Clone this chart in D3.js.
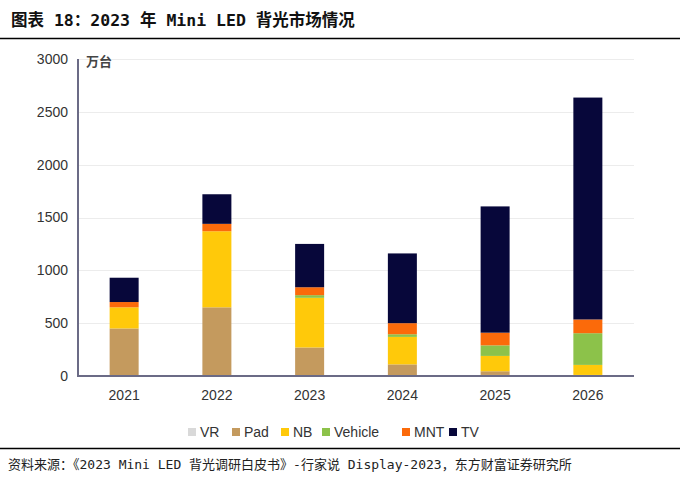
<!DOCTYPE html>
<html>
<head>
<meta charset="utf-8">
<script src="https://cdnjs.cloudflare.com/ajax/libs/d3/7.8.5/d3.min.js"></script>
<style>
html,body{margin:0;padding:0;background:#fff;}
svg{display:block;}
</style>
</head>
<body>
<svg id="chart" width="687" height="477"></svg>
<script>
const years = ["2021","2022","2023","2024","2025","2026"];
const seriesNames = ["VR","Pad","NB","Vehicle","MNT","TV"];
const VR      = [0, 0, 0, 5, 10, 10];
const Pad     = [450, 650, 270, 105, 35, 0];
const NB      = [200, 720, 470, 260, 145, 95];
const Vehicle = [0, 0, 25, 25, 100, 300];
const MNT     = [50, 70, 75, 105, 120, 130];
const TV      = [230, 280, 410, 660, 1195, 2100];
const yTicks  = [0, 500, 1000, 1500, 2000, 2500, 3000];
const colors  = ["#d9d9d9", "#c49a5e", "#ffc90a", "#8cc24a", "#fb6a0a", "#07073a"];
const titleText = "图表 18：2023 年 Mini LED 背光市场情况";
const unitText = "万台";
const sourceText = "资料来源：《2023 Mini LED 背光调研白皮书》-行家说 Display-2023，东方财富证券研究所";

const seriesValues = [VR, Pad, NB, Vehicle, MNT, TV];
const table = years.map((y, i) => {
  const row = {year: y};
  seriesNames.forEach((s, j) => row[s] = seriesValues[j][i]);
  return row;
});

const svg = d3.select("#chart");
const monoCJK = "'DejaVu Sans Mono','Liberation Mono','Noto Sans CJK SC',monospace";
const sans = "'Liberation Sans',Arial,'Noto Sans CJK SC',sans-serif";

// Title
svg.append("text").attr("x", 11).attr("y", 26)
  .attr("font-family", monoCJK).attr("font-weight", "bold")
  .attr("font-size", 16.5).attr("fill", "#111").text(titleText);
svg.append("line").attr("x1", 0).attr("x2", 680).attr("y1", 38.5).attr("y2", 38.5)
  .attr("stroke", "#000").attr("stroke-width", 1.3);

// Scales
const x = d3.scaleBand().domain(years).range([78, 634]).paddingInner(0.685).paddingOuter(0.34);
const y = d3.scaleLinear().domain([0, 3000]).range([376, 59]);

// Gridlines
svg.append("g").selectAll("line").data(yTicks.filter(d => d > 0)).join("line")
  .attr("x1", 79).attr("x2", 634)
  .attr("y1", d => Math.round(y(d)) + 0.5).attr("y2", d => Math.round(y(d)) + 0.5)
  .attr("stroke", "#ececec").attr("stroke-width", 1);

// Stacked bars
const stack = d3.stack().keys(seriesNames)(table);
const bw = 29;
svg.append("g").selectAll("g").data(stack).join("g")
  .attr("fill", (d, i) => colors[i])
  .selectAll("rect").data(d => d).join("rect")
  .attr("x", d => x(d.data.year) + x.bandwidth() / 2 - bw / 2)
  .attr("width", bw)
  .attr("y", d => y(d[1]))
  .attr("height", d => Math.max(0, y(d[0]) - y(d[1])));

// Axes
const yAxis = svg.append("g").attr("transform", "translate(78,0)")
  .call(d3.axisLeft(y).tickValues(yTicks).tickFormat(d3.format("d")).tickSize(0).tickPadding(10));
yAxis.select(".domain").remove();
yAxis.selectAll("text").attr("font-family", sans).attr("font-size", 14).attr("fill", "#333");

svg.append("line").attr("x1", 78).attr("x2", 78).attr("y1", 59).attr("y2", 376)
  .attr("stroke", "#6b6b86").attr("stroke-width", 2);

const xAxis = svg.append("g").attr("transform", "translate(0,376)")
  .call(d3.axisBottom(x).tickSize(0).tickPadding(14));
xAxis.select(".domain").remove();
xAxis.selectAll("text").attr("font-family", sans).attr("font-size", 14).attr("fill", "#333");
svg.append("line").attr("x1", 77).attr("x2", 634).attr("y1", 376).attr("y2", 376)
  .attr("stroke", "#6b6b86").attr("stroke-width", 2);

// Unit label
svg.append("text").attr("x", 86).attr("y", 66)
  .attr("font-family", "'Noto Sans CJK SC',sans-serif").attr("font-weight", "bold")
  .attr("font-size", 13).attr("fill", "#444").text(unitText);

// Legend
const legendX = [188, 232, 281, 322, 402, 449];
const lg = svg.append("g");
seriesNames.forEach((s, i) => {
  lg.append("rect").attr("x", legendX[i]).attr("y", 428).attr("width", 8).attr("height", 8)
    .attr("fill", colors[i]);
  lg.append("text").attr("x", legendX[i] + 12).attr("y", 437)
    .attr("font-family", sans).attr("font-size", 14).attr("fill", "#333").text(s);
});

// Bottom rule and source
svg.append("line").attr("x1", 0).attr("x2", 680).attr("y1", 448.5).attr("y2", 448.5)
  .attr("stroke", "#000").attr("stroke-width", 1.3);
svg.append("text").attr("x", 8).attr("y", 469)
  .attr("font-family", monoCJK).attr("font-size", 13).attr("fill", "#222").text(sourceText);
</script>
</body>
</html>
